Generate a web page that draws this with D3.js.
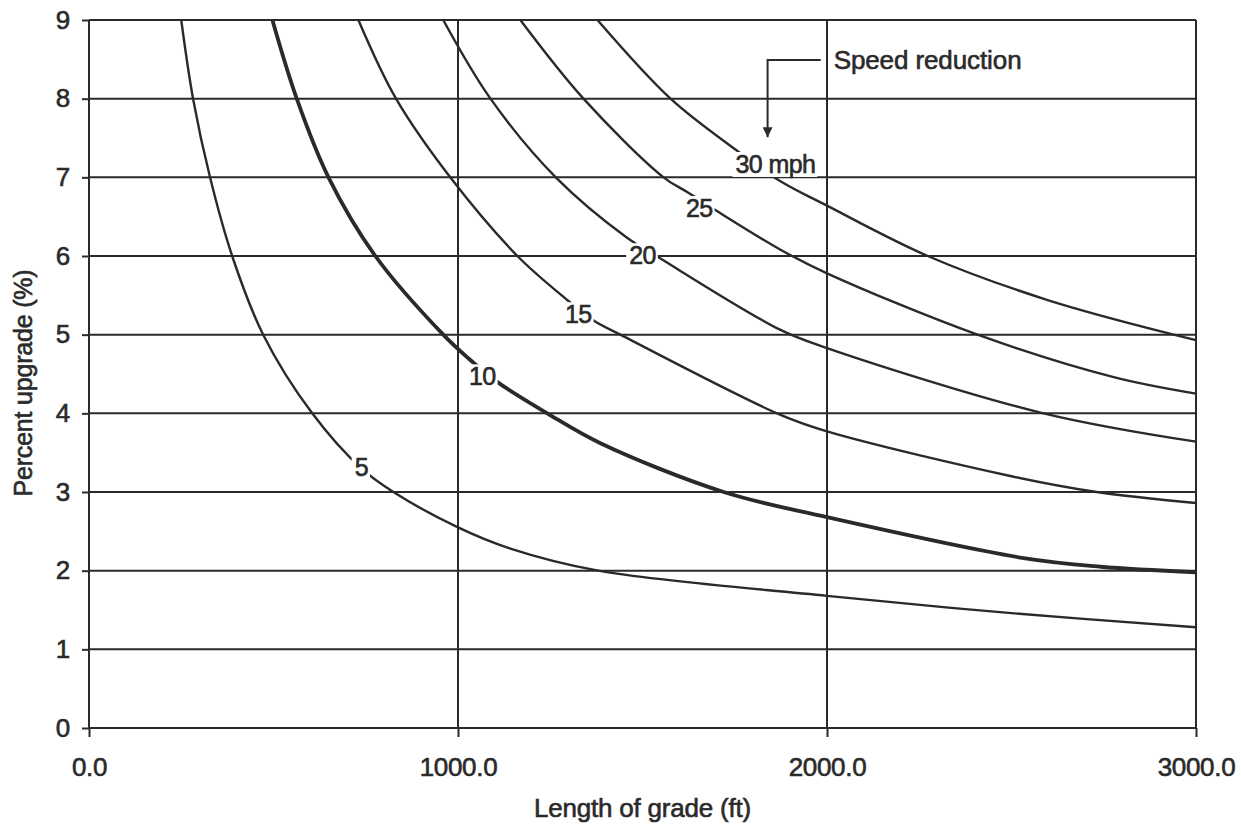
<!DOCTYPE html>
<html>
<head>
<meta charset="utf-8">
<script src="https://cdn.jsdelivr.net/npm/d3@7"></script>
<style>
  body { margin: 0; background: #fff; }
  svg text { font-family: "Liberation Sans", Arial, sans-serif; fill: #2a2a2a; stroke: #2a2a2a; stroke-width: 0.6px; }
</style>
</head>
<body>
<div id="chart"></div>
<script>
// values (length of grade in ft, percent upgrade)
const len5  = [250, 282, 328, 388, 472, 605, 738, 825, 1000, 1142, 1380, 2000, 2500, 3000];
const up5   = [9, 8, 7, 6, 5, 4, 3.3, 3, 2.55, 2.28, 2.0, 1.68, 1.46, 1.28];

const len10 = [497, 563, 649, 776, 960, 1028, 1109, 1242, 1386, 1720, 2000, 2533, 2742, 3000];
const up10  = [9, 8, 7, 6, 5, 4.70, 4.39, 4, 3.62, 3, 2.68, 2.16, 2.05, 1.98];

const len15 = [730, 832, 979, 1161, 1286, 1364, 1440, 1874, 2000, 2500, 2731, 3000];
const up15  = [9, 8, 7, 6, 5.48, 5.19, 5, 3.98, 3.77, 3.2, 3.0, 2.86];

const len20 = [960, 1088, 1265, 1459, 1541, 1874, 2000, 2587, 3000];
const up20  = [9, 8, 7, 6.23, 5.99, 5.06, 4.83, 4.0, 3.64];

const len25 = [1169, 1340, 1557, 1622, 1692, 1874, 2000, 2408, 2777, 3000];
const up25  = [9, 8, 7, 6.81, 6.60, 6.08, 5.78, 5.0, 4.46, 4.25];

const len30 = [1378, 1576, 1747, 1874, 2000, 2273, 2598, 3000];
const up30  = [9, 8, 7.37, 6.95, 6.64, 6.0, 5.44, 4.93];

// curve labels and where they sit (data units)
const labelText = ["5", "10", "15", "20", "25", "30 mph"];
const labelLen  = [738, 1066, 1326, 1500, 1654, 1752];
const labelUp   = [3.32, 4.47, 5.26, 6.01, 6.61, 7.17];

const xTicks = [0, 1000, 2000, 3000];
const yTicks = [0, 1, 2, 3, 4, 5, 6, 7, 8, 9];

const width = 1241, height = 827;
const margin = { top: 20, right: 45, bottom: 99, left: 89 };
const innerW = width - margin.left - margin.right;
const innerH = height - margin.top - margin.bottom;
const ink = "#2a2a2a";

const svg = d3.select("#chart").append("svg")
    .attr("width", width)
    .attr("height", height);

const plot = svg.append("g")
    .attr("transform", `translate(${margin.left},${margin.top})`);

const x = d3.scaleLinear().domain([0, 3000]).range([0, innerW]);
const y = d3.scaleLinear().domain([0, 9]).range([innerH, 0]);

// horizontal grid
plot.append("g")
    .selectAll("line")
    .data(yTicks)
    .enter()
    .append("line")
    .attr("x1", 0).attr("x2", innerW)
    .attr("y1", d => y(d)).attr("y2", d => y(d))
    .attr("stroke", ink)
    .attr("stroke-width", 2);

// curves
const curves = [
    { xs: len5,  ys: up5,  w: 2.4 },
    { xs: len10, ys: up10, w: 3.8 },
    { xs: len15, ys: up15, w: 2.4 },
    { xs: len20, ys: up20, w: 2.4 },
    { xs: len25, ys: up25, w: 2.4 },
    { xs: len30, ys: up30, w: 2.4 }
];

const line = d3.line()
    .x(d => x(d[0]))
    .y(d => y(d[1]))
    .curve(d3.curveCatmullRom.alpha(0.5));

plot.append("g")
    .selectAll("path")
    .data(curves)
    .enter()
    .append("path")
    .attr("d", c => line(d3.zip(c.xs, c.ys)))
    .attr("fill", "none")
    .attr("stroke", ink)
    .attr("stroke-width", c => c.w);

// curve labels on a white patch that breaks the lines
const labels = plot.append("g");
labelText.forEach((t, i) => {
    const g = labels.append("g");
    const txt = g.append("text")
        .attr("x", x(labelLen[i]))
        .attr("y", y(labelUp[i]))
        .attr("dy", "0.36em")
        .attr("text-anchor", i === 5 ? "start" : "middle")
        .attr("font-size", 25)
        .attr("letter-spacing", -0.6)
        .text(t);
    const b = txt.node().getBBox();
    g.insert("rect", "text")
        .attr("x", b.x - 3).attr("y", b.y + 2)
        .attr("width", b.width + 5).attr("height", b.height - 3)
        .attr("fill", "#fff");
});

// vertical grid
plot.append("g")
    .selectAll("line")
    .data(xTicks)
    .enter()
    .append("line")
    .attr("x1", d => x(d)).attr("x2", d => x(d))
    .attr("y1", 0).attr("y2", innerH)
    .attr("stroke", ink)
    .attr("stroke-width", 2);

// axes: just the outer ticks and labels
const xAxis = d3.axisBottom(x)
    .tickValues(xTicks)
    .tickFormat(d3.format(".1f"))
    .tickSize(9)
    .tickPadding(21);

const yAxis = d3.axisLeft(y)
    .tickValues(yTicks)
    .tickFormat(d3.format("d"))
    .tickSize(7)
    .tickPadding(12);

const gx = plot.append("g")
    .attr("transform", `translate(0,${innerH})`)
    .call(xAxis);

const gy = plot.append("g")
    .call(yAxis);

[gx, gy].forEach(g => {
    g.select(".domain").remove();
    g.selectAll(".tick line").attr("stroke", ink).attr("stroke-width", 2);
    g.selectAll(".tick text")
        .attr("fill", ink)
        .attr("font-size", 26)
        .attr("letter-spacing", -0.3)
        .style("font-family", '"Liberation Sans", Arial, sans-serif');
});

// axis titles
plot.append("text")
    .attr("x", innerW / 2)
    .attr("y", innerH + 89)
    .attr("text-anchor", "middle")
    .attr("font-size", 26)
    .attr("letter-spacing", -0.2)
    .text("Length of grade (ft)");

plot.append("text")
    .attr("transform", `translate(${32 - margin.left},${363}) rotate(-90)`)
    .attr("text-anchor", "middle")
    .attr("font-size", 25)
    .attr("letter-spacing", -0.2)
    .text("Percent upgrade (%)");

// "speed reduction" leader with arrow
const noteLen = [1839, 1983];
const noteUp = [8.49, 7.51];

svg.append("defs").append("marker")
    .attr("id", "arrow")
    .attr("viewBox", "0 0 10 10")
    .attr("refX", 10).attr("refY", 5)
    .attr("markerWidth", 11).attr("markerHeight", 10)
    .attr("markerUnits", "userSpaceOnUse")
    .attr("orient", "auto")
    .append("path")
    .attr("d", "M0,0 L10,5 L0,10 Z")
    .attr("fill", ink);

plot.append("path")
    .attr("d", `M${x(noteLen[1])},${y(noteUp[0])} H${x(noteLen[0])} V${y(noteUp[1])}`)
    .attr("fill", "none")
    .attr("stroke", ink)
    .attr("stroke-width", 2)
    .attr("marker-end", "url(#arrow)");

plot.append("text")
    .attr("x", x(2018))
    .attr("y", y(8.49))
    .attr("dy", "0.36em")
    .attr("font-size", 26)
    .attr("letter-spacing", -0.1)
    .text("Speed reduction");
</script>
</body>
</html>
